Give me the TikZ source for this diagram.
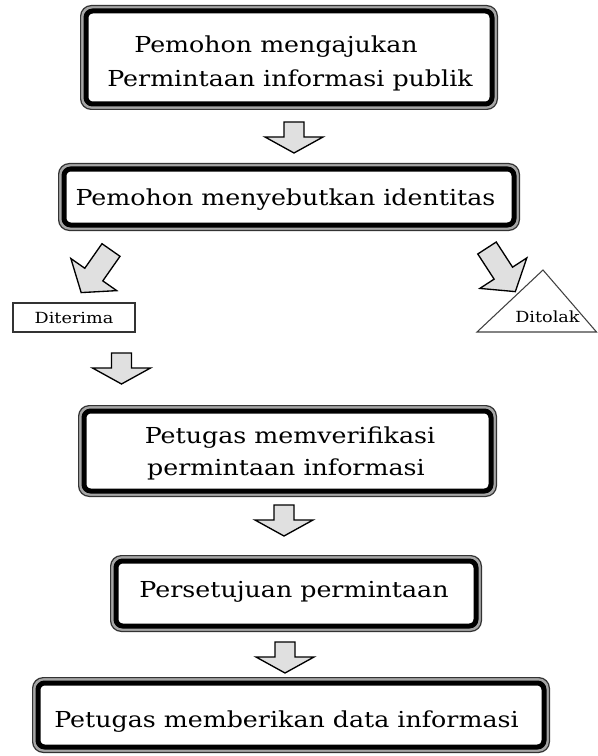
\documentclass[tikz,border=0pt]{standalone}
\usepackage{fontspec}
\setmainfont{DejaVu Serif}[FakeStretch=1.15]
\newcommand\flowbox[5]{% name, cx, cy, W, H (outer size, px)
  \draw[frameout] ({#2-#4/2+0.6},{#3-#5/2+0.6}) rectangle ({#2+#4/2-0.6},{#3+#5/2-0.6});
  \pgfmathsetmacro\fbW{(#4-12)*0.75}%
  \pgfmathsetmacro\fbH{(#5-12)*0.75}%
  \node[framein, minimum width=\fbW pt, minimum height=\fbH pt] (#1) at (#2,#3) {};
}
\begin{document}
\begin{tikzpicture}[x=0.75pt,y=-0.75pt,
  frameout/.style={draw=black!80, line width=0.9pt, fill=black!35, rounded corners=8pt},
  framein/.style={shape=rectangle, draw=black, line width=3.75pt, fill=white, rounded corners=5pt, inner sep=0pt},
  boxtext/.style={anchor=base, inner sep=0pt, font=\fontsize{16.5}{20}\selectfont},
  smalltext/.style={font=\fontsize{11.5}{14}\selectfont, inner sep=0pt},
  blockarrow/.style={draw=black, fill=black!12, line width=1pt, line join=miter},
  downarrow/.pic={\draw[blockarrow] (-10,0) -- (10,0) -- (10,15) -- (29,15) -- (0,31) -- (-29,15) -- (-10,15) -- cycle;},
  diagarrow/.pic={\draw[blockarrow] (-11,0) -- (11,0) -- (11,30) -- (28,30) -- (0,52) -- (-28,30) -- (-11,30) -- cycle;}
]
\useasboundingbox (0,0) rectangle (597,756);

% boxes
\flowbox{b1}{289}{57.5}{418}{105}
\flowbox{b2}{289}{197}{462}{68}
\flowbox{b3}{287.5}{451}{419}{92}
\flowbox{b4}{296}{593.5}{372}{77}
\flowbox{b5}{291}{715}{518}{76}

% texts
\node[boxtext] (t1a) at (276,53) {Pemohon mengajukan};
\node[boxtext] (t1b) at (290,87) {Permintaan informasi publik};
\node[boxtext] (t2) at (285.5,205) {Pemohon menyebutkan identitas};
\node[boxtext] (t3a) at (290,443) {Petugas memverifikasi};
\node[boxtext] (t3b) at (286,475) {permintaan informasi};
\node[boxtext] (t4) at (294,597) {Persetujuan permintaan};
\node[boxtext] (t5) at (286.5,727) {Petugas memberikan data informasi};

% block arrows
\pic at (294,122) {downarrow};
\pic at (121.5,353) {downarrow};
\pic at (284,505) {downarrow};
\pic at (285,642) {downarrow};
\pic[rotate=-35] at (111,250) {diagarrow};
\pic[rotate=33] at (487,248) {diagarrow};

% Diterima / Ditolak
\node[draw=black!80, line width=0.8pt, minimum width=91.5pt, minimum height=21.75pt, smalltext] (diterima) at (74,317.5) {Diterima};
\draw[draw=black!75, line width=0.8pt, line join=miter] (477,332) -- (596.5,332) -- (543,270) -- cycle;
\node[smalltext, anchor=base] (ditolak) at (547.5,322) {Ditolak};
\end{tikzpicture}
\end{document}
